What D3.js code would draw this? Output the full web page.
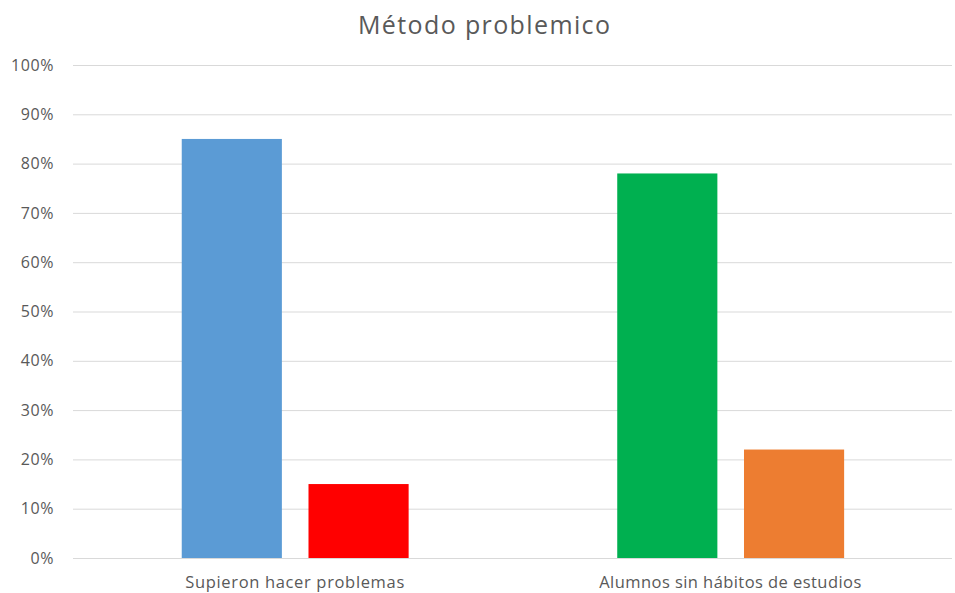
<!DOCTYPE html>
<html>
<head>
<meta charset="utf-8">
<script src="https://cdn.jsdelivr.net/npm/d3@7"></script>
<style>
  html, body { margin: 0; padding: 0; background: #fff; }
  svg { display: block; font-family: "Open Sans", Lato, sans-serif; }
</style>
</head>
<body>
<svg id="chart" width="955" height="593"></svg>
<script>
// Chart data
const title = "Método problemico";
const categories = ["Supieron hacer problemas", "Alumnos sin hábitos de estudios"];
const firstBar = [0.85, 0.78];
const secondBar = [0.15, 0.22];
const firstColors = ["#5B9BD5", "#00B050"];
const secondColors = ["#FF0000", "#ED7D31"];
const yTicks = [0, 0.1, 0.2, 0.3, 0.4, 0.5, 0.6, 0.7, 0.8, 0.9, 1.0];

const svg = d3.select("#chart");
const plot = { left: 73, right: 952, top: 65, bottom: 558 };

const y = d3.scaleLinear().domain([0, 1]).range([plot.bottom, plot.top]);
const x = d3.scaleBand().domain(categories).range([plot.left + 4, plot.right - 4]).padding(0);
const inner = d3.scaleBand().domain([0, 1])
  .range([x.bandwidth() * 0.2405, x.bandwidth() * 0.7615])
  .paddingInner(0.21).paddingOuter(0);

// Title
svg.append("text")
  .attr("x", 484).attr("y", 34)
  .attr("text-anchor", "middle")
  .attr("font-size", 25)
  .attr("fill", "#595959")
  .attr("textLength", 252)
  .attr("lengthAdjust", "spacing")
  .text(title);

// Gridlines and y axis labels
const yAxis = d3.axisLeft(y)
  .tickValues(yTicks)
  .tickFormat(d3.format(".0%"))
  .tickSize(-(plot.right - plot.left))
  .tickPadding(19);

const gy = svg.append("g")
  .attr("transform", `translate(${plot.left},0)`)
  .call(yAxis);
gy.select(".domain").remove();
gy.selectAll(".tick line").attr("stroke", "#d9d9d9").attr("stroke-width", 1);
gy.selectAll(".tick text")
  .attr("fill", "#595959")
  .attr("font-size", 16)
  .attr("letter-spacing", 0.6)
  .attr("font-family", "'Open Sans', Lato, sans-serif");

// Bars
const rows = categories.map((c, i) => ({
  cat: c,
  bars: [
    { k: 0, v: firstBar[i], color: firstColors[i] },
    { k: 1, v: secondBar[i], color: secondColors[i] }
  ]
}));

const groups = svg.append("g").selectAll("g")
  .data(rows).join("g")
  .attr("transform", d => `translate(${x(d.cat)},0)`);

groups.selectAll("rect")
  .data(d => d.bars).join("rect")
  .attr("x", d => inner(d.k))
  .attr("width", inner.bandwidth())
  .attr("y", d => y(d.v))
  .attr("height", d => y(0) - y(d.v))
  .attr("fill", d => d.color);

// Category labels
const labelWidths = [219, 262];
svg.append("g").selectAll("text")
  .data(categories).join("text")
  .attr("x", d => x(d) + x.bandwidth() / 2)
  .attr("y", 588)
  .attr("text-anchor", "middle")
  .attr("font-size", 16.5)
  .attr("fill", "#595959")
  .attr("textLength", (d, i) => labelWidths[i])
  .attr("lengthAdjust", "spacing")
  .text(d => d);
</script>
</body>
</html>
